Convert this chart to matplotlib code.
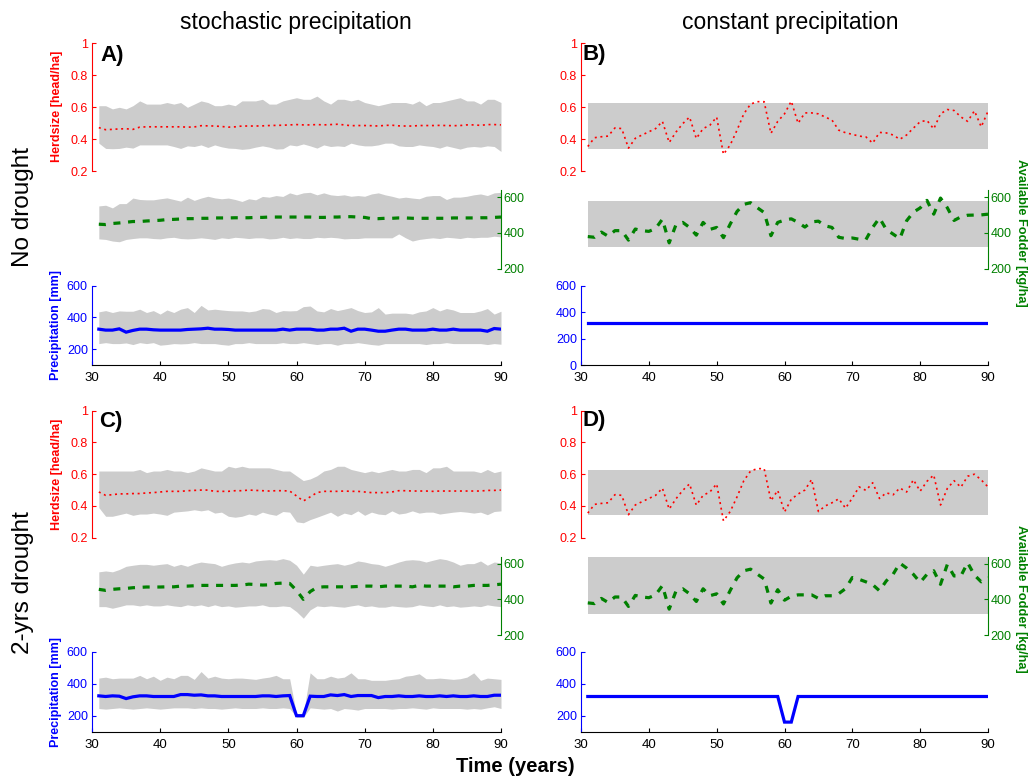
import numpy as np
import matplotlib
matplotlib.use('Agg')
import matplotlib.pyplot as plt

plt.rcParams['font.family'] = ['Liberation Sans', 'DejaVu Sans']

# ---- data (years 31..90) ----
years = np.arange(31, 91)

# A) no drought, stochastic precipitation
a_herd_mean = [0.473, 0.460, 0.462, 0.465, 0.466, 0.462, 0.476, 0.478, 0.478, 0.478,
               0.478, 0.478, 0.478, 0.476, 0.477, 0.485, 0.484, 0.483, 0.480, 0.476,
               0.478, 0.483, 0.483, 0.483, 0.484, 0.486, 0.487, 0.488, 0.490, 0.492,
               0.490, 0.490, 0.492, 0.490, 0.492, 0.494, 0.490, 0.485, 0.486, 0.486,
               0.485, 0.483, 0.487, 0.488, 0.484, 0.483, 0.483, 0.486, 0.486, 0.486,
               0.487, 0.486, 0.485, 0.486, 0.490, 0.490, 0.487, 0.492, 0.492, 0.490]
a_herd_hi = [0.61, 0.61, 0.59, 0.60, 0.59, 0.61, 0.64, 0.62, 0.62, 0.62,
             0.63, 0.62, 0.63, 0.60, 0.62, 0.64, 0.63, 0.61, 0.61, 0.62,
             0.61, 0.64, 0.64, 0.64, 0.65, 0.62, 0.62, 0.64, 0.65, 0.66,
             0.65, 0.65, 0.67, 0.64, 0.62, 0.65, 0.65, 0.64, 0.65, 0.63,
             0.62, 0.61, 0.62, 0.63, 0.63, 0.63, 0.62, 0.64, 0.61, 0.63,
             0.63, 0.64, 0.65, 0.66, 0.64, 0.64, 0.62, 0.65, 0.65, 0.63]
a_herd_lo = [0.376, 0.343, 0.341, 0.343, 0.351, 0.345, 0.365, 0.365, 0.365, 0.365,
             0.365, 0.355, 0.343, 0.359, 0.355, 0.365, 0.349, 0.365, 0.353, 0.345,
             0.343, 0.337, 0.341, 0.351, 0.359, 0.351, 0.339, 0.341, 0.365, 0.359,
             0.371, 0.359, 0.345, 0.365, 0.355, 0.359, 0.355, 0.376, 0.365, 0.359,
             0.359, 0.365, 0.376, 0.376, 0.359, 0.355, 0.355, 0.365, 0.359, 0.355,
             0.345, 0.359, 0.349, 0.339, 0.351, 0.355, 0.351, 0.359, 0.355, 0.324]
a_fod_mean = [449, 447, 453, 456, 460, 464, 464, 467, 469, 471,
              475, 476, 478, 480, 480, 482, 482, 484, 484, 484,
              485, 485, 485, 487, 487, 489, 489, 489, 489, 489,
              489, 489, 487, 487, 489, 489, 491, 491, 489, 487,
              480, 480, 482, 482, 484, 484, 482, 482, 482, 482,
              482, 482, 484, 484, 484, 484, 485, 485, 487, 489]
a_fod_hi = [551, 555, 540, 564, 564, 595, 587, 585, 585, 591,
            596, 587, 578, 600, 582, 595, 605, 596, 591, 595,
            587, 576, 591, 585, 604, 600, 609, 604, 624, 613,
            624, 627, 613, 624, 613, 609, 613, 605, 609, 605,
            618, 624, 613, 605, 595, 600, 595, 591, 605, 609,
            609, 587, 600, 600, 605, 613, 618, 609, 624, 627]
a_fod_lo = [367, 364, 355, 351, 364, 369, 373, 373, 369, 367,
            373, 376, 369, 367, 369, 373, 369, 364, 373, 369,
            376, 373, 369, 373, 373, 367, 369, 376, 369, 373,
            369, 369, 376, 373, 376, 373, 367, 369, 369, 373,
            373, 373, 373, 373, 395, 373, 355, 364, 369, 373,
            369, 376, 373, 369, 376, 373, 376, 376, 382, 378]
a_prec_mean = [326, 320, 320, 328, 307, 318, 326, 326, 322, 320,
               320, 320, 320, 324, 326, 328, 332, 326, 326, 324,
               320, 320, 320, 320, 320, 320, 320, 326, 320, 326,
               326, 326, 320, 320, 326, 326, 332, 313, 326, 326,
               320, 313, 313, 320, 326, 326, 320, 320, 320, 326,
               320, 320, 326, 320, 320, 320, 320, 313, 330, 326]
a_prec_hi = [435, 443, 431, 441, 439, 439, 452, 431, 443, 421,
             447, 431, 452, 462, 431, 476, 447, 452, 447, 443,
             441, 441, 435, 441, 456, 452, 431, 443, 441, 443,
             468, 472, 441, 435, 456, 443, 452, 462, 443, 431,
             435, 462, 421, 427, 427, 427, 421, 435, 441, 462,
             441, 456, 447, 431, 431, 431, 441, 456, 421, 439]
a_prec_lo = [235, 241, 235, 235, 239, 229, 241, 235, 241, 225,
             229, 235, 233, 235, 241, 235, 235, 235, 229, 225,
             235, 235, 241, 235, 235, 235, 235, 241, 235, 235,
             241, 235, 229, 235, 235, 225, 235, 235, 241, 235,
             229, 225, 235, 235, 235, 235, 235, 235, 229, 235,
             235, 241, 235, 235, 235, 235, 235, 229, 235, 231]

# C) 2-yrs drought, stochastic precipitation
c_herd_mean = [0.488, 0.467, 0.471, 0.476, 0.476, 0.478, 0.478, 0.482, 0.484, 0.488,
               0.492, 0.492, 0.492, 0.496, 0.498, 0.500, 0.500, 0.492, 0.492, 0.492,
               0.496, 0.496, 0.500, 0.498, 0.496, 0.494, 0.496, 0.496, 0.494, 0.463,
               0.431, 0.457, 0.484, 0.492, 0.492, 0.492, 0.494, 0.492, 0.492, 0.488,
               0.484, 0.484, 0.484, 0.488, 0.496, 0.496, 0.494, 0.494, 0.494, 0.492,
               0.494, 0.494, 0.494, 0.494, 0.494, 0.494, 0.494, 0.498, 0.498, 0.500]
c_herd_hi = [0.62, 0.62, 0.62, 0.62, 0.62, 0.62, 0.63, 0.61, 0.62, 0.62,
             0.63, 0.62, 0.62, 0.61, 0.62, 0.64, 0.63, 0.62, 0.62, 0.65,
             0.64, 0.65, 0.64, 0.64, 0.64, 0.64, 0.63, 0.62, 0.62, 0.59,
             0.56, 0.57, 0.59, 0.62, 0.63, 0.65, 0.65, 0.63, 0.62, 0.61,
             0.62, 0.61, 0.62, 0.63, 0.62, 0.62, 0.63, 0.63, 0.61, 0.64,
             0.64, 0.65, 0.62, 0.62, 0.62, 0.62, 0.61, 0.63, 0.61, 0.62]
c_herd_lo = [0.390, 0.335, 0.335, 0.345, 0.355, 0.341, 0.349, 0.349, 0.355, 0.349,
             0.341, 0.361, 0.365, 0.369, 0.376, 0.369, 0.376, 0.355, 0.361, 0.335,
             0.329, 0.335, 0.349, 0.341, 0.361, 0.349, 0.341, 0.365, 0.361, 0.300,
             0.294, 0.314, 0.329, 0.345, 0.361, 0.335, 0.355, 0.345, 0.369, 0.341,
             0.361, 0.349, 0.345, 0.369, 0.349, 0.355, 0.369, 0.355, 0.361, 0.361,
             0.349, 0.355, 0.361, 0.365, 0.361, 0.355, 0.361, 0.345, 0.365, 0.369]
c_fod_mean = [456, 450, 456, 459, 461, 465, 467, 469, 469, 469,
              470, 470, 474, 474, 476, 478, 478, 478, 478, 478,
              478, 480, 485, 483, 480, 481, 489, 491, 489, 450,
              400, 443, 467, 470, 470, 470, 470, 470, 472, 474,
              474, 470, 474, 474, 474, 474, 470, 478, 474, 474,
              474, 474, 470, 474, 474, 478, 478, 478, 481, 485]
c_fod_hi = [554, 559, 554, 567, 585, 591, 596, 596, 591, 596,
            600, 585, 596, 585, 600, 609, 604, 600, 585, 596,
            604, 609, 604, 615, 619, 622, 619, 628, 619, 591,
            541, 591, 585, 591, 596, 600, 591, 600, 615, 609,
            600, 596, 585, 596, 609, 619, 622, 619, 609, 619,
            628, 622, 609, 591, 600, 600, 615, 591, 609, 604]
c_fod_lo = [359, 359, 350, 359, 369, 369, 363, 369, 363, 363,
            369, 363, 359, 369, 363, 369, 359, 369, 359, 363,
            356, 359, 363, 363, 369, 359, 359, 363, 359, 331,
            294, 341, 363, 359, 363, 359, 356, 363, 369, 359,
            363, 356, 356, 363, 359, 356, 359, 369, 363, 359,
            369, 359, 363, 356, 359, 363, 359, 369, 363, 359]
c_prec_mean = [324, 320, 324, 322, 307, 318, 324, 324, 320, 320,
               320, 320, 332, 332, 328, 330, 324, 324, 320, 320,
               320, 320, 320, 320, 324, 324, 320, 324, 326, 200,
               200, 322, 320, 320, 330, 326, 332, 320, 326, 326,
               326, 313, 320, 320, 324, 320, 320, 324, 320, 320,
               324, 320, 324, 320, 320, 324, 320, 320, 328, 328]
c_prec_hi = [435, 441, 431, 435, 435, 435, 452, 431, 447, 421,
             441, 431, 452, 452, 427, 476, 435, 447, 435, 431,
             435, 435, 431, 427, 435, 441, 452, 431, 431, 210,
             210, 468, 431, 431, 447, 435, 441, 468, 431, 431,
             421, 421, 421, 427, 431, 447, 452, 462, 431, 431,
             435, 431, 427, 431, 441, 468, 421, 435, 431, 427]
c_prec_lo = [245, 241, 245, 249, 245, 241, 245, 249, 245, 241,
             245, 249, 249, 249, 245, 249, 245, 245, 241, 245,
             249, 245, 245, 245, 249, 245, 245, 249, 245, 190,
             190, 249, 245, 241, 245, 229, 245, 241, 235, 245,
             245, 245, 245, 241, 245, 245, 249, 245, 241, 249,
             245, 245, 245, 245, 241, 245, 241, 249, 256, 245]

# B) no drought, constant precipitation
b_herd = [0.355, 0.410, 0.416, 0.420, 0.471, 0.467, 0.345, 0.406, 0.427, 0.447,
          0.467, 0.512, 0.380, 0.445, 0.498, 0.539, 0.405, 0.467, 0.488, 0.539,
          0.306, 0.365, 0.457, 0.559, 0.620, 0.635, 0.635, 0.437, 0.512, 0.559,
          0.638, 0.500, 0.565, 0.565, 0.559, 0.539, 0.520, 0.457, 0.441, 0.431,
          0.420, 0.415, 0.376, 0.443, 0.440, 0.427, 0.400, 0.427, 0.470, 0.510,
          0.518, 0.465, 0.559, 0.586, 0.580, 0.540, 0.512, 0.578, 0.478, 0.575]
b_fod = [380, 376, 405, 382, 413, 413, 360, 422, 413, 409,
         425, 477, 345, 446, 459, 431, 388, 459, 420, 431,
         374, 450, 520, 560, 569, 541, 514, 385, 459, 472,
         479, 459, 433, 462, 466, 440, 431, 376, 369, 372,
         365, 363, 431, 484, 420, 394, 368, 468, 516, 540,
         582, 505, 595, 541, 470, 490, 499, 500, 501, 505]
b_prec = [320, 320, 320, 320, 320, 320, 320, 320, 320, 320,
          320, 320, 320, 320, 320, 320, 320, 320, 320, 320,
          320, 320, 320, 320, 320, 320, 320, 320, 320, 320,
          320, 320, 320, 320, 320, 320, 320, 320, 320, 320,
          320, 320, 320, 320, 320, 320, 320, 320, 320, 320,
          320, 320, 320, 320, 320, 320, 320, 320, 320, 320]
b_herd_band = (0.34, 0.625)
b_fod_band = (323, 581)

# D) 2-yrs drought, constant precipitation
d_herd = [0.355, 0.410, 0.416, 0.420, 0.471, 0.467, 0.345, 0.406, 0.427, 0.447,
          0.467, 0.512, 0.380, 0.445, 0.498, 0.539, 0.405, 0.467, 0.488, 0.539,
          0.306, 0.365, 0.457, 0.559, 0.620, 0.635, 0.635, 0.433, 0.498, 0.362,
          0.442, 0.475, 0.500, 0.567, 0.365, 0.400, 0.420, 0.445, 0.386, 0.450,
          0.520, 0.498, 0.546, 0.447, 0.483, 0.470, 0.513, 0.488, 0.565, 0.493,
          0.555, 0.595, 0.406, 0.510, 0.559, 0.518, 0.587, 0.600, 0.564, 0.520]
d_fod = [380, 376, 405, 382, 413, 413, 360, 422, 413, 409,
         425, 477, 345, 446, 459, 431, 388, 459, 420, 431,
         374, 450, 520, 560, 569, 541, 514, 379, 454, 395,
         417, 425, 425, 425, 405, 420, 420, 432, 460, 522,
         512, 498, 482, 448, 503, 540, 603, 575, 540, 495,
         540, 560, 484, 595, 531, 531, 605, 536, 498, 522]
d_prec = [320, 320, 320, 320, 320, 320, 320, 320, 320, 320,
          320, 320, 320, 320, 320, 320, 320, 320, 320, 320,
          320, 320, 320, 320, 320, 320, 320, 320, 320, 160,
          160, 320, 320, 320, 320, 320, 320, 320, 320, 320,
          320, 320, 320, 320, 320, 320, 320, 320, 320, 320,
          320, 320, 320, 320, 320, 320, 320, 320, 320, 320]
d_herd_band = (0.345, 0.626)
d_fod_band = (320, 638)

col_titles = ['stochastic precipitation', 'constant precipitation']
row_titles = ['No drought', '2-yrs drought']

RED = '#ff0000'
GREEN = '#008000'
BLUE = '#0000ff'
GRAY = '#cccccc'

W, H = 1030, 780
fig = plt.figure(figsize=(W / 100, H / 100), dpi=100)


def box(x0, x1, top, bot):
    return [x0 / W, 1 - bot / H, (x1 - x0) / W, (bot - top) / H]


def make_axes(x0, x1, rows, prec_lim, prec_ticks):
    (ht, hb), (ft, fb), (pt, pb) = rows
    ah = fig.add_axes(box(x0, x1, ht, hb))
    af = fig.add_axes(box(x0, x1, ft, fb))
    ap = fig.add_axes(box(x0, x1, pt, pb))
    for ax in (ah, af, ap):
        ax.set_xlim(30, 90)
        ax.patch.set_visible(False)
        for s in ax.spines.values():
            s.set_visible(False)
            s.set_linewidth(0.8)

    # herdsize axis (left, red)
    ah.spines['left'].set_visible(True)
    ah.spines['left'].set_color(RED)
    ah.set_ylim(0.2, 1)
    ah.set_yticks([0.2, 0.4, 0.6, 0.8, 1])
    ah.set_yticklabels(['0.2', '0.4', '0.6', '0.8', '1'])
    ah.set_xticks([])
    ah.tick_params(axis='y', direction='in', length=3, width=0.8,
                   color=RED, labelcolor=RED, labelsize=9, pad=3)

    # fodder axis (right, green)
    af.spines['right'].set_visible(True)
    af.spines['right'].set_color(GREEN)
    af.yaxis.tick_right()
    af.set_ylim(200, 640)
    af.set_yticks([200, 400, 600])
    af.set_xticks([])
    af.tick_params(axis='y', direction='in', length=3, width=0.8,
                   color=GREEN, labelcolor=GREEN, labelsize=9, pad=2)

    # precipitation axis (left, blue) + time axis
    ap.spines['left'].set_visible(True)
    ap.spines['left'].set_color(BLUE)
    ap.spines['bottom'].set_visible(True)
    ap.spines['bottom'].set_color('black')
    ap.set_ylim(*prec_lim)
    ap.set_yticks(prec_ticks)
    ap.set_xticks(range(30, 91, 10))
    ap.tick_params(axis='y', direction='in', length=3, width=0.8,
                   color=BLUE, labelcolor=BLUE, labelsize=9, pad=3)
    ap.tick_params(axis='x', direction='in', length=3, width=0.8,
                   color='black', labelcolor='black', labelsize=9.5, pad=5)
    return ah, af, ap


def draw_lines(ah, af, ap, herd, fod, prec):
    ah.plot(years, herd, color=RED, lw=1.2, ls=(0, (1.2, 2.2)))
    af.plot(years, fod, color=GREEN, lw=2.3, ls=(0, (2.2, 2.4)))
    ap.plot(years, prec, color=BLUE, lw=2.3, solid_joinstyle='miter')


top_rows = [(43.3, 171.3), (190.0, 268.8), (285.7, 365.0)]
bot_rows = [(410.7, 537.7), (556.5, 635.0), (651.7, 731.7)]
left_x = (92, 501)
right_x = (581, 988)

# panel A
ah, af, ap = make_axes(*left_x, top_rows, (100, 600), [200, 400, 600])
ah.fill_between(years, a_herd_lo, a_herd_hi, color=GRAY, lw=0)
af.fill_between(years, a_fod_lo, a_fod_hi, color=GRAY, lw=0)
ap.fill_between(years, a_prec_lo, a_prec_hi, color=GRAY, lw=0)
draw_lines(ah, af, ap, a_herd_mean, a_fod_mean, a_prec_mean)

# panel C
ah, af, ap = make_axes(*left_x, bot_rows, (100, 600), [200, 400, 600])
ah.fill_between(years, c_herd_lo, c_herd_hi, color=GRAY, lw=0)
af.fill_between(years, c_fod_lo, c_fod_hi, color=GRAY, lw=0)
ap.fill_between(years, c_prec_lo, c_prec_hi, color=GRAY, lw=0)
draw_lines(ah, af, ap, c_herd_mean, c_fod_mean, c_prec_mean)

# panel B
ah, af, ap = make_axes(*right_x, top_rows, (0, 600), [0, 200, 400, 600])
ah.fill_between([years[0], years[-1]], *b_herd_band, color=GRAY, lw=0)
af.fill_between([years[0], years[-1]], *b_fod_band, color=GRAY, lw=0)
draw_lines(ah, af, ap, b_herd, b_fod, b_prec)

# panel D
ah, af, ap = make_axes(*right_x, bot_rows, (100, 600), [200, 400, 600])
ah.fill_between([years[0], years[-1]], *d_herd_band, color=GRAY, lw=0)
af.fill_between([years[0], years[-1]], *d_fod_band, color=GRAY, lw=0)
draw_lines(ah, af, ap, d_herd, d_fod, d_prec)


def ftext(x, y, s, **kw):
    fig.text(x / W, 1 - y / H, s, **kw)


# column and row titles
ftext(296, 22, col_titles[0], fontsize=16.5, ha='center', va='center')
ftext(790, 22, col_titles[1], fontsize=16.5, ha='center', va='center')
ftext(23, 207, row_titles[0], fontsize=17.5, rotation=90, ha='center', va='center')
ftext(23, 583, row_titles[1], fontsize=17.5, rotation=90, ha='center', va='center')
ftext(515, 767, 'Time (years)', fontsize=14.5, fontweight='bold', ha='center', va='center')

# panel letters
for (x, y), lab in zip([(100, 45), (583, 44), (99, 411), (582, 410)],
                       ['A)', 'B)', 'C)', 'D)']):
    ftext(x, y, lab, fontsize=16, fontweight='bold', ha='left', va='top')

# axis labels
for yh, yp in [(106, 325), (474, 692)]:
    ftext(57, yh, 'Herdsize [head/ha]', fontsize=9, fontweight='bold',
          color=RED, rotation=90, ha='center', va='center')
    ftext(55.5, yp, 'Precipitation [mm]', fontsize=9, fontweight='bold',
          color=BLUE, rotation=90, ha='center', va='center')
for yf in [233, 599]:
    ftext(1021, yf, 'Available Fodder [kg/ha]', fontsize=9.2, fontweight='bold',
          color=GREEN, rotation=-90, ha='center', va='center')

fig.savefig('out.png', dpi=100)
